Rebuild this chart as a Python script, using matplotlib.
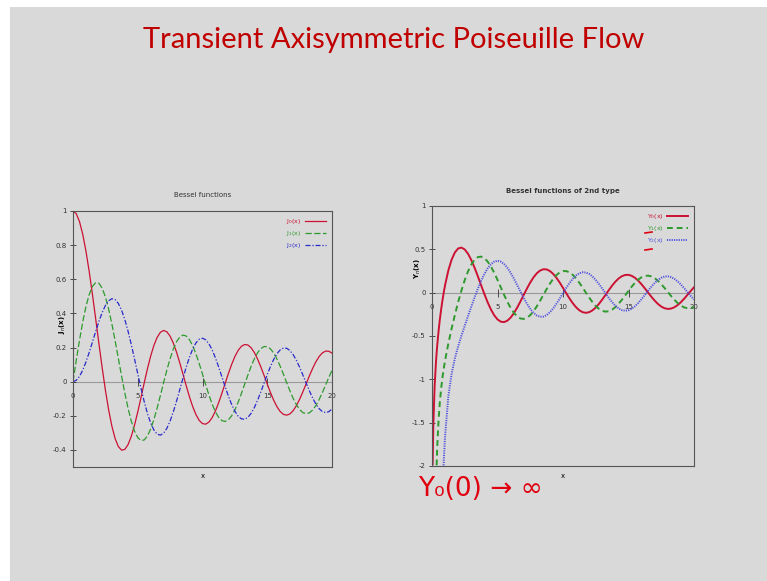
import matplotlib.pyplot as plt
from matplotlib.patches import Rectangle
from matplotlib.lines import Line2D

# Bessel functions of 1st kind (x = 0 .. 20, step 0.25)
x_j = [i * 0.25 for i in range(81)]
j0 = [1.0, 0.9844, 0.9385, 0.8642,
      0.7652, 0.6459, 0.5118, 0.3690,
      0.2239, 0.0827, -0.0484, -0.1642,
      -0.2601, -0.3328, -0.3801, -0.4014,
      -0.3971, -0.3692, -0.3205, -0.2551,
      -0.1776, -0.0931, -0.0068, 0.0760,
      0.1506, 0.2131, 0.2601, 0.2895,
      0.3001, 0.2920, 0.2663, 0.2253,
      0.1717, 0.1092, 0.0419, -0.0260,
      -0.0903, -0.1474, -0.1939, -0.2273,
      -0.2459, -0.2490, -0.2366, -0.2101,
      -0.1712, -0.1227, -0.0677, -0.0097,
      0.0477, 0.1010, 0.1469, 0.1829,
      0.2069, 0.2178, 0.2150, 0.1991,
      0.1711, 0.1331, 0.0875, 0.0374,
      -0.0142, -0.0641, -0.1092, -0.1469,
      -0.1749, -0.1917, -0.1964, -0.1890,
      -0.1699, -0.1407, -0.1032, -0.0599,
      -0.0134, 0.0332, 0.0772, 0.1157,
      0.1466, 0.1681, 0.1789, 0.1785,
      0.1670]
j1 = [0.0, 0.1240, 0.2423, 0.3492,
      0.4401, 0.5106, 0.5579, 0.5802,
      0.5767, 0.5484, 0.4971, 0.4261,
      0.3391, 0.2412, 0.1374, 0.0333,
      -0.0660, -0.1556, -0.2311, -0.2893,
      -0.3276, -0.3451, -0.3414, -0.3180,
      -0.2767, -0.2207, -0.1538, -0.0803,
      -0.0047, 0.0686, 0.1352, 0.1916,
      0.2346, 0.2622, 0.2731, 0.2672,
      0.2453, 0.2092, 0.1613, 0.1049,
      0.0435, -0.0190, -0.0789, -0.1325,
      -0.1768, -0.2094, -0.2284, -0.2331,
      -0.2234, -0.2004, -0.1655, -0.1212,
      -0.0703, -0.0161, 0.0380, 0.0889,
      0.1334, 0.1689, 0.1934, 0.2057,
      0.2051, 0.1920, 0.1672, 0.1326,
      0.0904, 0.0433, -0.0058, -0.0538,
      -0.0977, -0.1350, -0.1634, -0.1814,
      -0.1880, -0.1829, -0.1666, -0.1403,
      -0.1057, -0.0650, -0.0209, 0.0240,
      0.0668]
j2 = [0.0, 0.0078, 0.0306, 0.0671,
      0.1149, 0.1711, 0.2321, 0.2940,
      0.3528, 0.4047, 0.4461, 0.4741,
      0.4861, 0.4812, 0.4586, 0.4192,
      0.3641, 0.2960, 0.2178, 0.1333,
      0.0466, -0.0384, -0.1173, -0.1866,
      -0.2429, -0.2837, -0.3074, -0.3133,
      -0.3014, -0.2731, -0.2303, -0.1759,
      -0.1130, -0.0456, 0.0223, 0.0871,
      0.1448, 0.1926, 0.2279, 0.2488,
      0.2546, 0.2453, 0.2216, 0.1855,
      0.1390, 0.0855, 0.0279, -0.0300,
      -0.0849, -0.1337, -0.1734, -0.2019,
      -0.2177, -0.2202, -0.2094, -0.1862,
      -0.1520, -0.1094, -0.0609, -0.0095,
      0.0416, 0.0893, 0.1308, 0.1637,
      0.1862, 0.1970, 0.1957, 0.1826,
      0.1584, 0.1251, 0.0845, 0.0395,
      -0.0075, -0.0532, -0.0952, -0.1307,
      -0.1577, -0.1749, -0.1810, -0.1761,
      -0.1603]

# Bessel functions of 2nd kind, right panel (finer near x = 0, then step 0.25)
x_y = [0.05, 0.1, 0.2, 0.3, 0.35, 0.4, 0.5, 0.6, 0.7, 0.8, 0.9, 1.0, 1.25, 1.5, 1.75] + \
      [2.0 + i * 0.25 for i in range(73)]
y0 = [-1.979, -1.5342, -1.0811, -0.8073, -0.7001, -0.6060, -0.4445, -0.3085, -0.1907,
      -0.0868, 0.0056, 0.0883, 0.2582, 0.3824, 0.4653,
      0.5104, 0.5202, 0.4981, 0.4488,
      0.3769, 0.2884, 0.1890, 0.0853,
      -0.0169, -0.1119, -0.1947, -0.2613,
      -0.3085, -0.3348, -0.3395, -0.3234,
      -0.2882, -0.2370, -0.1732, -0.1014,
      -0.0259, 0.0484, 0.1173, 0.1768,
      0.2235, 0.2552, 0.2702, 0.2683,
      0.2499, 0.2168, 0.1712, 0.1163,
      0.0557, -0.0069, -0.0676, -0.1226,
      -0.1688, -0.2038, -0.2254, -0.2326,
      -0.2252, -0.2043, -0.1712, -0.1283,
      -0.0782, -0.0243, 0.0301, 0.0816,
      0.1272, 0.1642, 0.1903, 0.2043,
      0.2055, 0.1941, 0.1709, 0.1374,
      0.0959, 0.0492, 0.0002, -0.0480,
      -0.0926, -0.1308, -0.1604, -0.1797,
      -0.1876, -0.1838, -0.1687, -0.1434,
      -0.1095, -0.0694, -0.0255, 0.0194,
      0.0626]
y1 = [-12.79, -6.459, -3.3238, -2.2931, -2.0004, -1.7809, -1.4715, -1.2604, -1.1032,
      -0.9781, -0.8731, -0.7812, -0.5844, -0.4123, -0.2538,
      -0.1070, 0.0272, 0.1459, 0.2460,
      0.3247, 0.3798, 0.4102, 0.4159,
      0.3979, 0.3586, 0.3010, 0.2293,
      0.1479, 0.0619, -0.0238, -0.1042,
      -0.1750, -0.2326, -0.2741, -0.2978,
      -0.3027, -0.2894, -0.2591, -0.2144,
      -0.1581, -0.0940, -0.0262, 0.0413,
      0.1043, 0.1593, 0.2032, 0.2336,
      0.2490, 0.2490, 0.2337, 0.2046,
      0.1637, 0.1137, 0.0579, -0.0002,
      -0.0571, -0.1093, -0.1538, -0.1881,
      -0.2101, -0.2189, -0.2140, -0.1962,
      -0.1666, -0.1274, -0.0810, -0.0305,
      0.0211, 0.0705, 0.1148, 0.1513,
      0.1779, 0.1932, 0.1964, 0.1875,
      0.1672, 0.1368, 0.0983, 0.0546,
      0.0082, -0.0381, -0.0814, -0.1198,
      -0.1502, -0.1703, -0.1795, -0.1780,
      -0.1655]
y2 = [-509.6, -127.64, -32.16, -14.48, -10.73, -8.298, -5.4413, -3.8928, -2.9613,
      -2.358, -1.9346, -1.6507, -1.1932, -0.9322, -0.7554,
      -0.6174, -0.4960, -0.3813, -0.2699,
      -0.1604, -0.0547, 0.0453, 0.1365,
      0.2159, 0.2807, 0.3284, 0.3578,
      0.3677, 0.3584, 0.3308, 0.2872,
      0.2299, 0.1626, 0.0889, 0.0132,
      -0.0605, -0.1282, -0.1864, -0.2321,
      -0.2630, -0.2780, -0.2763, -0.2589,
      -0.2262, -0.1824, -0.1284, -0.0684,
      -0.0059, 0.0555, 0.1121, 0.1607,
      0.1986, 0.2240, 0.2355, 0.2326,
      0.2157, 0.1865, 0.1466, 0.0988,
      0.0459, -0.0087, -0.0618, -0.1101,
      -0.1510, -0.1821, -0.2015, -0.2084,
      -0.2027, -0.1849, -0.1561, -0.1182,
      -0.0737, -0.0254, 0.0236, 0.0704,
      0.1123, 0.1467, 0.1716, 0.1859,
      0.1884, 0.1796, 0.1599, 0.1306,
      0.0937, 0.0517, 0.0071, -0.0374,
      -0.0792]

RED, GREEN, BLUE = '#cc1133', '#2e9a2e', '#2a2acc'
BG = '#d9d9d9'

fig = plt.figure(figsize=(7.67, 5.81), dpi=100, facecolor='white')
fig.add_artist(Rectangle((10 / 767, 0), 1, 1 - 7 / 581, transform=fig.transFigure,
                         facecolor=BG, edgecolor='none', zorder=-10))

fig.text(394 / 767, 1 - 40 / 581, 'Transient Axisymmetric Poiseuille Flow',
         ha='center', va='center', color='#c00000', fontsize=21, family='Lato')


def style_panel(ax):
    ax.set_facecolor('none')
    for s in ax.spines.values():
        s.set_color('#555555')
        s.set_linewidth(0.8)
    ax.axhline(0, color='#999999', lw=0.8, zorder=0)
    ax.set_xlim(0, 20)
    ax.set_xticks([])
    ax.tick_params(axis='y', direction='inout', length=5, width=0.6, labelsize=5,
                   colors='#333333', pad=2)
    ax.set_xlabel('x', fontsize=5, labelpad=0)
    ax.xaxis.set_label_coords(0.5, -0.025)
    # x tick labels sit on the zero line
    sec = ax.secondary_xaxis(0, transform=ax.transData)
    sec.spines['bottom'].set_visible(False)
    sec.set_xticks([0, 5, 10, 15, 20])
    sec.tick_params(direction='inout', length=6, width=0.6, labelsize=5,
                    colors='#333333', pad=5)
    return sec


def add_legend(ax):
    ax.legend(loc='upper right', markerfirst=False, frameon=False, fontsize=4.5,
              handlelength=3.3, labelspacing=0.45, labelcolor='linecolor',
              borderaxespad=0.6, handletextpad=0.6)


# left panel
ax1 = fig.add_axes([73 / 767, 1 - 467 / 581, 259 / 767, 256 / 581])
style_panel(ax1)
ax1.plot(x_j, j0, color=RED, lw=0.9, label=r'J$_0$(x)')
ax1.plot(x_j, j1, color=GREEN, lw=0.9, ls=(0, (5, 2)), label=r'J$_1$(x)')
ax1.plot(x_j, j2, color=BLUE, lw=0.9, ls=(0, (4, 1.5, 1, 1.5)), label=r'J$_2$(x)')
ax1.set_ylim(-0.5, 1.0)
ax1.set_yticks([-0.4, -0.2, 0, 0.2, 0.4, 0.6, 0.8, 1])
ax1.set_yticklabels(['-0.4', '-0.2', '0', '0.2', '0.4', '0.6', '0.8', '1'])
ax1.set_ylabel(r'J$_n$(x)', fontsize=5, fontweight='bold')
ax1.yaxis.set_label_coords(-0.02, 0.555)
ax1.set_title('Bessel functions', fontsize=5, pad=10, color='#333333')
add_legend(ax1)

# right panel
ax2 = fig.add_axes([432 / 767, 1 - 466 / 581, 262 / 767, 260 / 581])
style_panel(ax2)
ax2.plot(x_y, y0, color=RED, lw=1.4, label=r'Y$_0$(x)')
ax2.plot(x_y, y1, color=GREEN, lw=1.4, ls=(0, (3, 2)), label=r'Y$_1$(x)')
ax2.plot(x_y, y2, color='#5050e0', lw=1.4, ls=(0, (0.6, 0.6)), label=r'Y$_2$(x)')
ax2.set_ylim(-2, 1)
ax2.set_yticks([-2, -1.5, -1, -0.5, 0, 0.5, 1])
ax2.set_yticklabels(['-2', '-1.5', '-1', '-0.5', '0', '0.5', '1'])
ax2.set_ylabel(r'Y$_n$(x)', fontsize=5, fontweight='bold')
ax2.yaxis.set_label_coords(-0.034, 0.76)
ax2.set_title('Bessel functions of 2nd type', fontsize=5, pad=9,
              fontweight='bold', color='#333333')
add_legend(ax2)

# handwritten note and marks
fig.text(418 / 767, 1 - 489 / 581, 'Y₀(0) → ∞', ha='left', va='center',
         color='#e00010', fontsize=19, family=['DejaVu Sans'])
for yy in (233, 250):
    fig.add_artist(Line2D([645 / 767, 652 / 767], [1 - yy / 581, 1 - (yy - 1) / 581],
                          transform=fig.transFigure, color='#e00010', lw=1.2))

fig.savefig('out.png', dpi=100, facecolor=fig.get_facecolor())
